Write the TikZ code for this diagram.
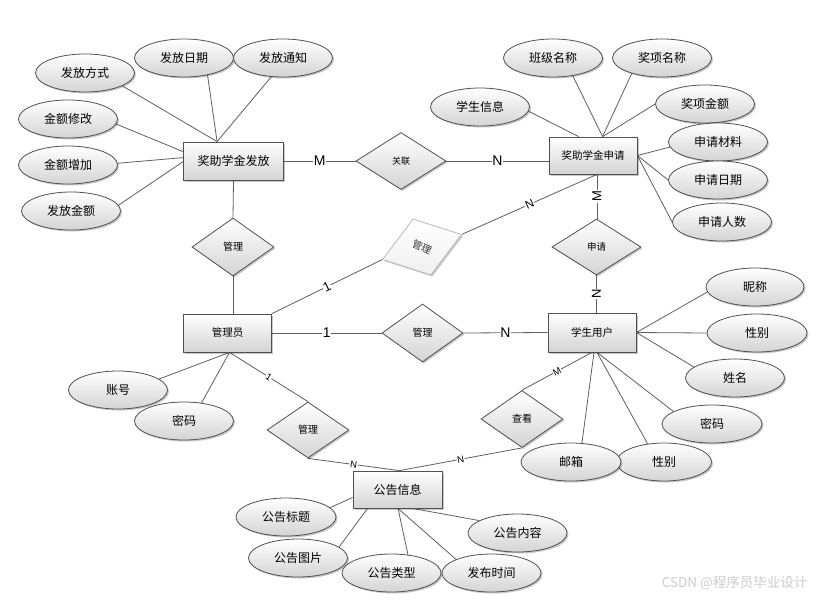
\documentclass[tikz,border=0pt]{standalone}
\usepackage{fontspec}
\usepackage{graphicx}
\setmainfont{Noto Sans CJK SC}
\newfontfamily\lat{Liberation Sans}
\usetikzlibrary{shapes.geometric,shadows,calc}
\definecolor{ln}{RGB}{95,95,95}
\definecolor{bd}{RGB}{80,80,80}
\definecolor{sh}{RGB}{212,212,212}
\pgfdeclarelayer{bg}
\pgfsetlayers{bg,main}
\tikzset{
  base/.style={draw=bd, line width=0.8pt, top color=white, bottom color=sh,
    drop shadow={shadow xshift=1.5pt, shadow yshift=-1.5pt, fill=black, opacity=0.22}, inner sep=0pt},
  ent/.style={base, rectangle, minimum width=88pt, minimum height=38pt, font=\fontsize{10.5}{12}\selectfont},
  rel/.style={base, diamond, minimum width=82pt, minimum height=57pt, font=\fontsize{10}{11}\selectfont},
  att/.style={base, ellipse, minimum width=99pt, minimum height=38pt, font=\fontsize{12}{14}\selectfont},
  conn/.style={draw=ln, line width=0.8pt},
  card/.style={font=\lat\fontsize{14}{15}\selectfont, fill=white, inner sep=0.8pt},
  scard/.style={font=\lat\fontsize{9.5}{10}\selectfont, fill=white, inner sep=0.5pt, sloped},
}
\begin{document}
\begin{tikzpicture}[x=1pt,y=-1pt]
\useasboundingbox (0,0) rectangle (822,600);

% entities
\node[ent, minimum width=100pt, font=\fontsize{12}{14}\selectfont] (fa) at (233.5,161) {奖助学金发放};
\node[ent, minimum height=37pt] (sq) at (593,155.5) {奖助学金申请};
\node[ent] (gl) at (227.5,333) {管理员};
\node[ent, minimum height=39pt] (xs) at (592,332.5) {学生用户};
\node[ent, minimum width=89pt, minimum height=37pt, font=\fontsize{12}{14}\selectfont] (gg) at (397.5,489.5) {公告信息};

% relationships
\node[rel, minimum width=90pt, font=\fontsize{9}{10}\selectfont] (d0) at (401,161) {关联};
\node[rel, minimum height=58pt] (d1) at (233,247) {管理};
\node[rel, draw=gray!55, bottom color=gray!12, rotate=17.6, minimum width=83pt, minimum height=59pt, text=black!80] (d2) at (422,247) {\rotatebox{-42.6}{管理}};
\node[rel, minimum width=81pt, minimum height=58pt] (d3) at (422.5,333) {管理};
\node[rel, minimum width=89pt, minimum height=56pt, font=\fontsize{9.5}{10}\selectfont] (d4) at (596.5,247) {申请};
\node[rel, minimum height=56pt] (d5) at (308,430) {管理};
\node[rel] (d6) at (522,419) {查看};

% attributes of 奖助学金发放
\node[att] (a1) at (85,73) {发放方式};
\node[att] (a2) at (184,58) {发放日期};
\node[att] (a3) at (283,58) {发放通知};
\node[att] (a4) at (68,119) {金额修改};
\node[att] (a5) at (68,165) {金额增加};
\node[att] (a6) at (71,211) {发放金额};

% attributes of 奖助学金申请
\node[att] (b1) at (480,107) {学生信息};
\node[att] (b2) at (553,58) {班级名称};
\node[att] (b3) at (662,58) {奖项名称};
\node[att] (b4) at (705,104) {奖项金额};
\node[att] (b5) at (718,142) {申请材料};
\node[att] (b6) at (718,180) {申请日期};
\node[att] (b7) at (722,222) {申请人数};

% attributes of 管理员
\node[att] (c1) at (118,390) {账号};
\node[att] (c2) at (184,421) {密码};

% attributes of 学生用户
\node[att, minimum width=98pt] (e1) at (755,287) {昵称};
\node[att, minimum width=100pt] (e2) at (757,333) {性别};
\node[att] (e3) at (735,378) {姓名};
\node[att, minimum width=100pt] (e4) at (712,424) {密码};
\node[att, minimum width=95pt] (e5) at (664,462) {性别};
\node[att, minimum width=100pt] (e6) at (571,462) {邮箱};

% attributes of 公告信息
\node[att, minimum width=100pt] (g1) at (286,517) {公告标题};
\node[att] (g2) at (298,558) {公告图片};
\node[att] (g3) at (391.5,573) {公告类型};
\node[att] (g4) at (491.5,573) {发布时间};
\node[att] (g5) at (517.5,533) {公告内容};

% watermark
\node[font=\fontsize{13.5}{14}\selectfont, text=gray!40, anchor=east] (wm) at (811,583) {CSDN @程序员毕业设计};

% helper coordinates
\coordinate (faT) at ($(fa.north west)+(34,0)$);
\coordinate (faL1) at ($(fa.north west)+(0,10)$);
\coordinate (faL2) at ($(fa.north west)+(0,16)$);
\coordinate (faL3) at ($(fa.north west)+(0,20)$);
\coordinate (sqT1) at ($(sq.north west)+(30,0)$);
\coordinate (sqT2) at ($(sq.north west)+(54,0)$);
\coordinate (sqB) at ($(sq.south)+(4,0)$);
\coordinate (glB) at ($(gl.south)+(2,0)$);
\coordinate (xsB) at ($(xs.south)+(5,0)$);
\coordinate (xsB2) at ($(xs.south)+(2,0)$);
\coordinate (ggT) at ($(gg.north)+(2,0)$);
\coordinate (ggL) at ($(gg.west)+(0,8)$);
\coordinate (ggB1) at ($(gg.south west)+(15,0)$);
\coordinate (ggB) at ($(gg.south)+(0.5,0)$);
\coordinate (ggB2) at ($(gg.south)+(15,0)$);

\begin{pgfonlayer}{bg}
% relationship connectors
\draw[conn] (fa.east) -- node[card]{M} (d0.west);
\draw[conn] (d0.east) -- node[card]{N} (d0.east -| sq.west);
\draw[conn] (fa.south) -- (d1.north);
\draw[conn] (d1.south) -- (d1.south |- gl.north);
\draw[conn] (gl.north east) -- node[scard, font=\lat\fontsize{13}{14}\selectfont]{1} (d2.west);
\draw[conn] (d2.east) -- node[scard, font=\lat\fontsize{11.5}{12}\selectfont]{N} (sqB);
\draw[conn] (sqB) -- node[card, rotate=90, font=\lat\fontsize{13}{14}\selectfont]{M} (sqB |- d4.north);
\draw[conn] (d4.south) -- node[card, rotate=90, font=\lat\fontsize{13}{14}\selectfont]{N} (d4.south |- xs.north);
\draw[conn] (gl.east) -- node[card]{1} (d3.west);
\draw[conn] (d3.east) -- node[card]{N} (xs.west);
\draw[conn] (glB) -- node[scard]{1} (d5.north);
\draw[conn] (d5.south) -- node[scard]{N} (ggT);
\draw[conn] (d6.south) -- node[scard]{N} (ggT);
\draw[conn] (xs.south) -- node[scard]{M} (d6.north);

% attribute connectors
\draw[conn] (faT) -- (a1.-19);
\draw[conn] (faT) -- (a2.-36);
\draw[conn] (faT) -- (a3.-122);
\draw[conn] (faL1) -- (a4.-6);
\draw[conn] (faL2) -- (a5.2);
\draw[conn] (faL3) -- (a6.7);

\draw[conn] (sqT1) -- (b1.-5);
\draw[conn] (sqT2) -- (b2.-42);
\draw[conn] (sqT2) -- (b3.-153);
\draw[conn] (sqT2) -- (b4.west);
\draw[conn] (sq.east) -- (b5.-174);
\draw[conn] (sq.east) -- (b6.west);
\draw[conn] (sq.east) -- (b7.west);

\draw[conn] (glB) -- (c1.15);
\draw[conn] (glB) -- (c2.46);

\draw[conn] (xs.east) -- (e1.-174);
\draw[conn] (xs.east) -- (e2.west);
\draw[conn] (xs.east) -- (e3.165);
\draw[conn] (xsB) -- (e4.162);
\draw[conn] (xsB) -- (e5.132);
\draw[conn] (xsB2) -- (e6.60);

\draw[conn] (ggL) -- (g1.12);
\draw[conn] (ggB1) -- (g2.15);
\draw[conn] (ggB) -- (g3.48);
\draw[conn] (ggB) -- (g4.159);
\draw[conn] (ggB2) -- (g5.162);
\end{pgfonlayer}
\end{tikzpicture}
\end{document}
